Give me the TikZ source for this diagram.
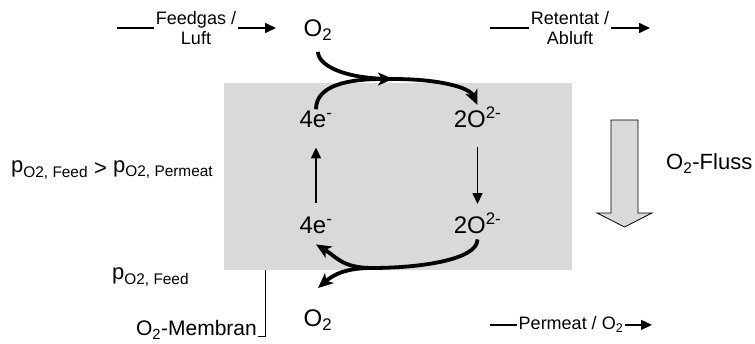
\documentclass[tikz,border=0pt]{standalone}
\usepackage{fontspec}
\setmainfont{Liberation Sans}
\usepackage{tikz}
\usetikzlibrary{arrows.meta}
\definecolor{membrangrau}{HTML}{D9D9D9}

\begin{document}
\begin{tikzpicture}[
  x=1pt, y=-1pt,
  spezies/.style={inner sep=2pt, font=\fontsize{24}{26}\selectfont},
  strom/.style={inner sep=2pt, align=center, font=\fontsize{18}{20.5}\selectfont},
  druck/.style={inner sep=0pt, font=\fontsize{22}{24}\selectfont},
  bogen/.style={line width=3.8pt, -{Stealth[length=15pt,width=13pt,inset=4pt]}},
  bogenlinie/.style={line width=3.8pt},
  pfeil/.style={line width=1.6pt, -{Triangle[length=11pt,width=10pt]}},
  linie/.style={line width=1.6pt}
]
  \useasboundingbox (0,0) rectangle (755,344);

  \node[fill=membrangrau, minimum width=348pt, minimum height=187pt, inner sep=0pt] (membran) at (398,176.5) {};

  \node[spezies, anchor=base] (o2top) at (318,37) {O\textsubscript{2}};
  \node[spezies, anchor=base] (e4top) at (316,128) {4e\textsuperscript{-}};
  \node[spezies, anchor=base] (o2mtop) at (477.5,128) {2O\textsuperscript{2-}};
  \node[spezies, anchor=base] (e4bot) at (316,234) {4e\textsuperscript{-}};
  \node[spezies, anchor=base] (o2mbot) at (477.5,234) {2O\textsuperscript{2-}};
  \node[spezies, anchor=base] (o2bot) at (318,327) {O\textsubscript{2}};

  \node[strom] (feed) at (196,28) {Feedgas /\\Luft};
  \node[strom] (retentat) at (570,28) {Retentat /\\Abluft};
  \node[strom, anchor=base] (permeat) at (571,330) {Permeat / O\textsubscript{2}};
  \coordinate (feedin) at (117,0);
  \coordinate (feedout) at (276,0);
  \coordinate (retin) at (490,0);
  \coordinate (retout) at (650,0);
  \coordinate (permin) at (490,0);
  \coordinate (permout) at (652,0);

  \draw[linie] (feedin |- feed.west) -- (feed.west);
  \draw[pfeil] (feed.east) -- (feedout |- feed.east);
  \draw[linie] (retin |- retentat.west) -- (retentat.west);
  \draw[pfeil] (retentat.east) -- (retout |- retentat.east);
  \draw[linie] (permin |- permeat.west) -- (permeat.west);
  \draw[pfeil] (permeat.east) -- (permout |- permeat.east);

  \node[druck, anchor=base west] (pdiff) at (11,173) {p\textsubscript{O2, Feed} \raisebox{-3pt}{>} p\textsubscript{O2, Permeat}};
  \node[druck, anchor=base west] (pfeed) at (112,280) {p\textsubscript{O2, Feed}};

  \node[anchor=base west, inner sep=0pt, font=\fontsize{22}{24}\selectfont] (fluss) at (666,170) {O\textsubscript{2}-Fluss};
  \draw[line width=0.8pt, fill=membrangrau] (611,120) -- (638,120) -- (638,213) -- (652,213) -- (624.5,227) -- (597,213) -- (611,213) -- cycle;

  \node[anchor=base east, inner sep=1pt, font=\fontsize{21}{24}\selectfont] (memlabel) at (258,336) {O\textsubscript{2}-Membran};
  \coordinate (mtick) at (265,0);
  \draw[line width=0.8pt] (mtick |- membran.south) |- (memlabel.base east);

  \draw[pfeil, shorten <=12pt, shorten >=17pt] (e4bot.north) -- (e4top.south);
  \draw[pfeil, shorten <=17pt, shorten >=7pt] (o2mtop.south) -- (o2mbot.north);

  \coordinate (jtop) at (393,79);
  \coordinate (jbot) at (372,268);
  \draw[bogenlinie, shorten <=9pt] (o2top.south) .. controls +(0,22) and +(-50,0) .. (jtop);
  \draw[bogen] (e4top.north) .. controls +(0,-24) and +(-45,0) .. (jtop);
  \draw[bogen] (jtop) .. controls +(45,0) and +(-8,-18) .. (o2mtop.north);
  \draw[bogenlinie, shorten <=3pt] (o2mbot.south) .. controls +(0,24) and +(45,0) .. (jbot);
  \draw[bogen] (jbot) .. controls +(-30,0) and +(20,12) .. ([yshift=-8pt]e4bot.south);
  \draw[bogen] (jbot) .. controls +(-25,0) and +(16,-14) .. ([yshift=20pt]o2bot.north);
\end{tikzpicture}
\end{document}
